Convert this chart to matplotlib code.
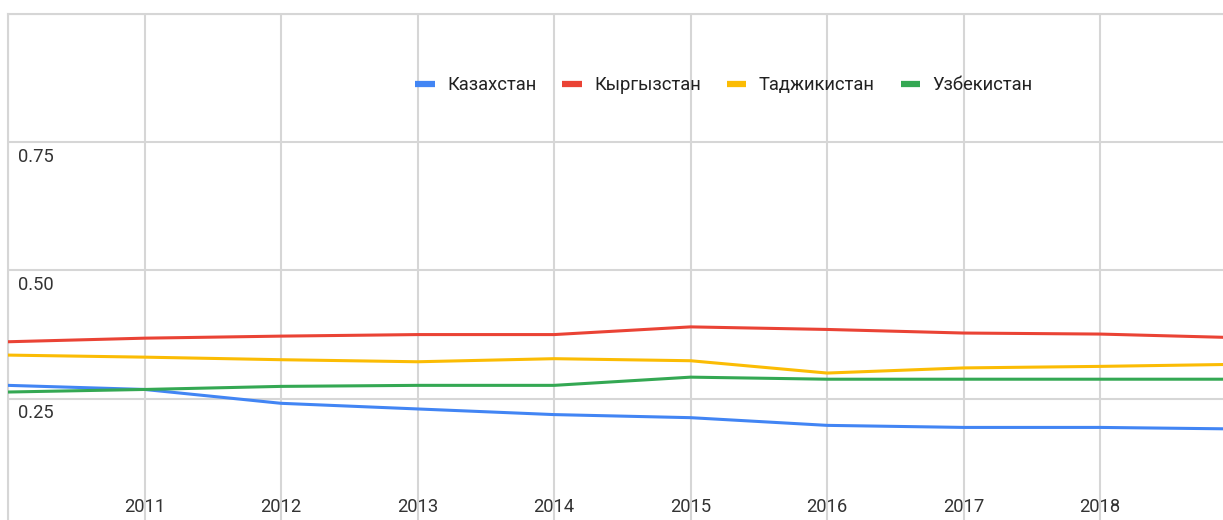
import matplotlib.pyplot as plt
from matplotlib.lines import Line2D

# data
years = [2010, 2011, 2012, 2013, 2014, 2015, 2016, 2017, 2018, 2019]
kazakhstan = [0.276, 0.268, 0.241, 0.230, 0.219, 0.213, 0.198, 0.194, 0.194, 0.191]
kyrgyzstan = [0.361, 0.368, 0.372, 0.375, 0.375, 0.390, 0.385, 0.378, 0.376, 0.369]
tajikistan = [0.335, 0.331, 0.326, 0.322, 0.328, 0.324, 0.300, 0.310, 0.313, 0.317]
uzbekistan = [0.263, 0.268, 0.274, 0.276, 0.276, 0.292, 0.288, 0.288, 0.288, 0.288]

series_names = ["Казахстан", "Кыргызстан", "Таджикистан", "Узбекистан"]
colors = ["#4285F4", "#EA4335", "#FBBC04", "#34A853"]
y_ticks = [0.25, 0.50, 0.75, 1.00]
y_labels = ["0.25", "0.50", "0.75"]
x_ticks = years[:-1]
x_labels = [""] + [str(y) for y in years[1:-1]]

plt.rcParams["font.family"] = ["Roboto", "DejaVu Sans"]
fs = 13.2

fig = plt.figure(figsize=(12.23, 5.2), dpi=100)
ax = fig.add_axes([8 / 1223, 0, 1 - 8 / 1223, (520 - 14) / 520])

for vals, name, c in zip([kazakhstan, kyrgyzstan, tajikistan, uzbekistan], series_names, colors):
    ax.plot(years, vals, color=c, lw=2.2, label=name, solid_joinstyle="round", zorder=3)

ax.set_xlim(2010, 2018.90)
ax.set_ylim(0.0135, 0.9968)

grid_color = "#d6d6d6"
ax.set_xticks(x_ticks)
ax.set_xticklabels(x_labels)
ax.set_yticks(y_ticks)
ax.set_yticklabels([])
ax.grid(True, color=grid_color, lw=1.5)
ax.tick_params(axis="x", length=0, pad=-16, labelsize=fs, labelcolor="#333333")
ax.tick_params(axis="y", length=0)

for s in ["right", "bottom"]:
    ax.spines[s].set_visible(False)
for s in ["left", "top"]:
    ax.spines[s].set_color(grid_color)
    ax.spines[s].set_linewidth(1.5)

for v, lab in zip(y_ticks, y_labels):
    ax.annotate(lab, xy=(0, v), xycoords=ax.get_yaxis_transform(),
                xytext=(7.2, -4), textcoords="offset points",
                ha="left", va="top", fontsize=fs, color="#333333")

handles = [Line2D([0], [0], color=c, lw=4.5, solid_capstyle="butt") for c in colors]
fig.legend(handles, series_names, loc="center", bbox_to_anchor=(724 / 1223, 435 / 520),
           ncol=4, frameon=False, fontsize=fs, handlelength=1.06,
           handletextpad=0.68, columnspacing=1.42, labelcolor="#222222")

fig.savefig("out.png", dpi=100)
